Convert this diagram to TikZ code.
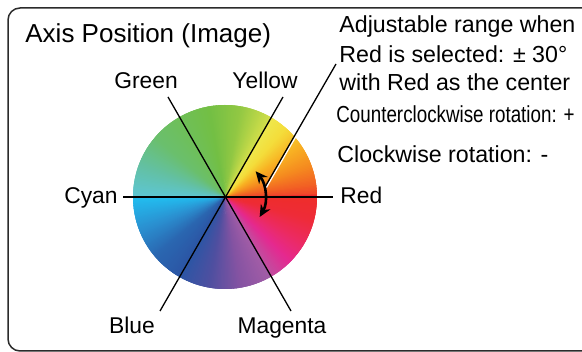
\documentclass[tikz,border=0pt]{standalone}
\usepackage{fontspec}
\setmainfont{Liberation Sans}
\usetikzlibrary{arrows.meta}
% Wheel colours, named after their angle (counterclockwise from Red)
\definecolor{w0}{HTML}{EF3E2C}
\definecolor{w8}{HTML}{F26124}
\definecolor{w20}{HTML}{F58A1F}
\definecolor{w35}{HTML}{F8B323}
\definecolor{w48}{HTML}{F4DC3A}
\definecolor{w60}{HTML}{EFE94D}
\definecolor{w60b}{HTML}{D2DF4A}
\definecolor{w80}{HTML}{92C843}
\definecolor{w100}{HTML}{73BF44}
\definecolor{w140}{HTML}{6ABF6E}
\definecolor{w160}{HTML}{63C0A4}
\definecolor{w180}{HTML}{5DC6D4}
\definecolor{w180b}{HTML}{22BEF0}
\definecolor{w200}{HTML}{2A92D2}
\definecolor{w220}{HTML}{2A67B1}
\definecolor{w240}{HTML}{2B56A5}
\definecolor{w260}{HTML}{4F4FA0}
\definecolor{w280}{HTML}{8553A2}
\definecolor{w300}{HTML}{A45DA7}
\definecolor{w300b}{HTML}{C04FA1}
\definecolor{w315}{HTML}{E52990}
\definecolor{w330}{HTML}{EC2A60}
\definecolor{w345}{HTML}{EE2B38}
\definecolor{w360}{HTML}{EE2D2B}
\definecolor{framegray}{HTML}{2B2B2B}
% one band of the wheel: from angle #1 to #2, colour #3 to #4
\newcommand{\hueband}[4]{%
  \pgfmathtruncatemacro{\bandn}{#2-#1}%
  \foreach \k in {1,...,\bandn}{%
    \pgfmathtruncatemacro{\pct}{100*(\k-0.5)/\bandn}%
    \pgfmathsetmacro{\angA}{#1+\k-1}%
    \pgfmathsetmacro{\angB}{#1+\k+1.5}%
    \fill[#4!\pct!#3] (wheel) -- ++(\angA:92) arc[start angle=\angA, end angle=\angB, radius=92] -- cycle;
  }}
\tikzset{
  axisline/.style={black, line width=0.65pt},
  colourlabel/.style={font=\fontsize{11.4}{13}\selectfont, inner sep=0pt},
  notetext/.style={font=\fontsize{11.6}{13}\selectfont, inner sep=0pt, anchor=base west}
}
\begin{document}
\begin{tikzpicture}[x=0.5pt, y=0.5pt]
  \useasboundingbox (0,0) rectangle (582,352);
  % Frame
  \draw[framegray, line width=0.75pt, rounded corners=6pt] (8,1) rectangle (600,344);
  \node[font=\fontsize{13}{15}\selectfont, inner sep=0pt, anchor=base west] (title) at (25,309) {Axis Position (Image)};
  % Colour wheel
  \coordinate (wheel) at (225,155);
  \foreach \a/\b/\ca/\cb in {0/8/w0/w8, 8/20/w8/w20, 20/35/w20/w35, 35/48/w35/w48,
      48/60/w48/w60, 60/80/w60b/w80, 80/100/w80/w100, 100/140/w100/w140,
      140/160/w140/w160, 160/180/w160/w180, 180/200/w180b/w200, 200/220/w200/w220,
      220/240/w220/w240, 240/260/w240/w260, 260/280/w260/w280, 280/300/w280/w300,
      300/315/w300b/w315, 315/330/w315/w330, 330/345/w330/w345, 345/360/w345/w360}
    {\hueband{\a}{\b}{\ca}{\cb}}
  % Axis lines
  \coordinate (cyanend) at (123,155);
  \coordinate (redend) at (333,155);
  \coordinate (greenend) at (168,255);
  \coordinate (magentaend) at (291,41);
  \coordinate (yellowend) at (283,255);
  \coordinate (blueend) at (160,41);
  \draw[axisline] (cyanend) -- (redend);
  \draw[axisline] (greenend) -- (magentaend);
  \draw[axisline] (yellowend) -- (blueend);
  % Colour labels
  \node[colourlabel, anchor=base] (green) at (146,263) {Green};
  \node[colourlabel, anchor=base] (yellow) at (265,263) {Yellow};
  \node[colourlabel, anchor=base east] (cyan) at (118,148) {Cyan};
  \node[colourlabel, anchor=base west] (red) at (340,148) {Red};
  \node[colourlabel, anchor=base] (blue) at (132,18) {Blue};
  \node[colourlabel, anchor=base] (magenta) at (282,18) {Magenta};
  % Pointer to the note
  \coordinate (pointtip) at (265,165);
  \coordinate (pointtop) at (336,288);
  \draw[white, line width=0.7pt, transform canvas={shift={(0.6pt,-0.35pt)}}] (pointtip) -- (pointtop);
  \draw[axisline] (pointtip) -- (pointtop);
  % Rotation arrow
  \draw[line width=1.3pt, {Stealth[length=6pt,width=5.5pt]}-{Stealth[length=6pt,width=5.5pt]}]
    ([shift={(40:40)}]wheel) arc[start angle=40, end angle=-30, radius=40];
  % Note
  \node[notetext] (note1) at (339,319) {Adjustable range when};
  \node[notetext] (note2) at (339,289) {Red is selected: ± 30°};
  \node[notetext] (note3) at (339,261) {with Red as the center};
  \node[notetext] (ccw) at (336,229) {\scalebox{0.81}[1]{Counterclockwise rotation: +}};
  \node[notetext] (cw) at (337,189) {Clockwise rotation: -};
\end{tikzpicture}
\end{document}
